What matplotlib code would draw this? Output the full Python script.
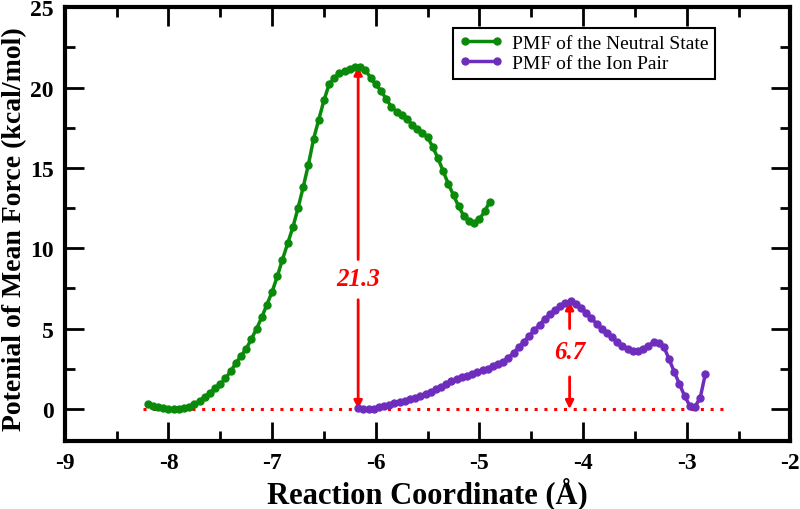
import numpy as np
import matplotlib
matplotlib.use('Agg')
import matplotlib.pyplot as plt
from matplotlib.ticker import MultipleLocator

# PMF нейтрального состояния (шаг 0.05 Å)
neutral_x = np.linspace(-8.20, -4.90, 67)
neutral_pmf = [0.30, 0.18, 0.10, 0.05, 0.02, 0.00, 0.00, 0.05, 0.15, 0.30,
               0.50, 0.75, 1.00, 1.30, 1.55, 1.90, 2.35, 2.85, 3.30, 3.75,
               4.35, 5.00, 5.70, 6.50, 7.30, 8.25, 9.30, 10.30, 11.30, 12.50,
               13.80, 15.20, 16.80, 18.00, 19.20, 20.20, 20.60, 20.90, 21.05, 21.15,
               21.25, 21.30, 21.10, 20.60, 20.20, 19.80, 19.30, 18.80, 18.50, 18.30,
               18.05, 17.70, 17.40, 17.20, 16.90, 16.30, 15.60, 14.80, 14.00, 13.30,
               12.60, 12.00, 11.70, 11.60, 11.80, 12.30, 12.90]

# PMF ионной пары
ion_x = np.linspace(-6.17, -2.82, 68)
ion_pmf = [0.05, 0.02, 0.00, 0.03, 0.10, 0.18, 0.28, 0.35, 0.45, 0.52,
           0.60, 0.70, 0.82, 0.95, 1.08, 1.22, 1.38, 1.55, 1.72, 1.88,
           2.00, 2.05, 2.15, 2.28, 2.40, 2.52, 2.65, 2.78, 2.95, 3.20,
           3.50, 3.85, 4.20, 4.55, 4.90, 5.25, 5.60, 5.90, 6.15, 6.40,
           6.60, 6.70, 6.55, 6.30, 6.00, 5.65, 5.30, 5.00, 4.75, 4.45,
           4.15, 3.90, 3.72, 3.62, 3.62, 3.75, 3.95, 4.15, 4.10, 3.85,
           3.10, 2.30, 1.55, 0.80, 0.20, 0.15, 0.70, 2.20]

# барьеры: (x, высота, y подписи, низ верхней стрелки, верх нижней стрелки)
barriers = [(-6.17, 21.3, 8.1, 9.3, 6.8), (-4.13, 6.7, 3.6, 5.0, 2.0)]
baseline_x = [-8.25, -2.64]

plt.rcParams['font.family'] = ['Liberation Serif', 'DejaVu Serif']
plt.rcParams['font.weight'] = 'bold'
plt.rcParams['axes.unicode_minus'] = False

fig = plt.figure(figsize=(8, 5.1), dpi=100)
ax = fig.add_axes([0.081, 0.133, 0.907, 0.851])

ax.plot(baseline_x, [0, 0], color='red', linestyle=(0, (1, 2.2)), linewidth=2.2, zorder=1)
ax.plot(neutral_x, neutral_pmf, '-o', color='#0a8a0a', markersize=5, linewidth=2.5,
        label='PMF of the Neutral State', zorder=3)
ax.plot(ion_x, ion_pmf, '-o', color='#6f2dbd', markersize=5, linewidth=2.5,
        label='PMF of the Ion Pair', zorder=3)

for x, h, ty, up0, dn0 in barriers:
    arr = dict(arrowstyle='-|>', color='red', lw=2, mutation_scale=12, shrinkA=0, shrinkB=0)
    ax.annotate('', xy=(x, h), xytext=(x, up0), arrowprops=arr, zorder=2)
    ax.annotate('', xy=(x, 0), xytext=(x, dn0), arrowprops=arr, zorder=2)
    ax.text(x, ty, f'{h:.1f}', color='red', fontsize=18, fontstyle='italic',
            fontweight='bold', ha='center', va='center')

ax.set_xlim(-9, -2)
ax.set_ylim(-2, 25)
ax.xaxis.set_major_locator(MultipleLocator(1))
ax.xaxis.set_minor_locator(MultipleLocator(0.5))
ax.yaxis.set_major_locator(MultipleLocator(5))
ax.yaxis.set_minor_locator(MultipleLocator(2.5))
ax.tick_params(which='both', direction='in', top=True, right=True, width=2)
ax.tick_params(which='major', length=14, labelsize=17, pad=8)
ax.tick_params(which='minor', length=7)
for s in ax.spines.values():
    s.set_linewidth(3)

ax.set_xlabel('Reaction Coordinate (Å)', fontsize=22, fontweight='bold', labelpad=2)
ax.set_ylabel('Potenial of Mean Force (kcal/mol)', fontsize=20, fontweight='bold')
ax.yaxis.set_label_coords(-0.052, 0.49)

leg = ax.legend(loc='upper right', bbox_to_anchor=(0.91, 0.975),
                numpoints=2, handlelength=2.2, fancybox=False, framealpha=1,
                edgecolor='black', borderpad=0.35, labelspacing=0.1, handletextpad=0.5,
                prop={'weight': 'normal', 'size': 14})
leg.get_frame().set_linewidth(1.5)

fig.savefig('out.png', dpi=100)
